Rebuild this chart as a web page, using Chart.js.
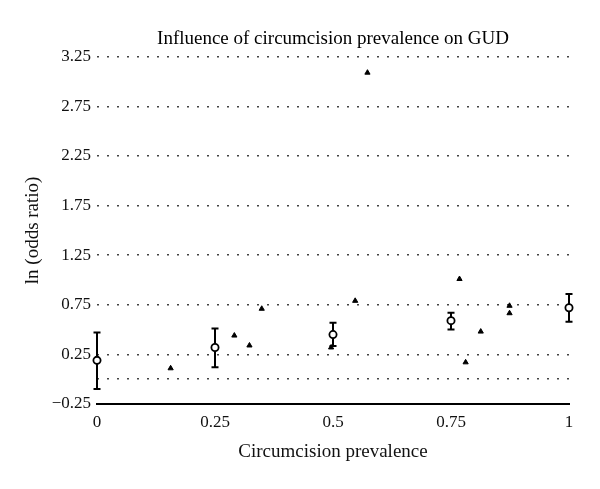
<!DOCTYPE html>
<html>
<head>
<meta charset="utf-8">
<script src="https://cdn.jsdelivr.net/npm/chart.js@4"></script>
<style>
    html, body { margin: 0; padding: 0; background: #fff; }
    #wrap { width: 600px; height: 489px; }
</style>
</head>
<body>
<div id="wrap"><canvas id="gudChart" width="600" height="489"></canvas></div>
<script>
// Pooled estimates (circles with error bars)
const pooledX = [0, 0.25, 0.5, 0.75, 1];
const pooledY = [0.19, 0.32, 0.45, 0.59, 0.72];
const pooledLow = [-0.10, 0.12, 0.335, 0.50, 0.58];
const pooledHigh = [0.47, 0.51, 0.57, 0.67, 0.86];

// Individual studies (triangles)
const studyX = [0.156, 0.291, 0.323, 0.349, 0.496, 0.547, 0.573, 0.768, 0.781, 0.813, 0.874, 0.874];
const studyY = [0.11, 0.44, 0.34, 0.71, 0.32, 0.79, 3.09, 1.01, 0.17, 0.48, 0.74, 0.665];

// Axis ticks
const xTicks = [0, 0.25, 0.5, 0.75, 1];
const yTicks = [-0.25, 0, 0.25, 0.75, 1.25, 1.75, 2.25, 2.75, 3.25];
const yLabels = ['\u22120.25', '', '0.25', '0.75', '1.25', '1.75', '2.25', '2.75', '3.25'];

const serif = "'Liberation Serif', 'DejaVu Serif', serif";

// white background
const bgPlugin = {
    id: 'white_bg',
    beforeDraw: (chart) => {
        const ctx = chart.ctx;
        ctx.save();
        ctx.fillStyle = 'white';
        ctx.fillRect(0, 0, chart.width, chart.height);
        ctx.restore();
    }
};

// vertical error bars for the pooled estimates
const errorBarPlugin = {
    id: 'error_bars',
    beforeDatasetsDraw: (chart) => {
        const ctx = chart.ctx;
        const xs = chart.scales.x;
        const ys = chart.scales.y;
        ctx.save();
        ctx.strokeStyle = '#000';
        ctx.lineWidth = 2;
        for (let i = 0; i < pooledX.length; i++) {
            const px = xs.getPixelForValue(pooledX[i]);
            const top = ys.getPixelForValue(pooledHigh[i]);
            const bot = ys.getPixelForValue(pooledLow[i]);
            ctx.beginPath();
            ctx.moveTo(px, top);
            ctx.lineTo(px, bot);
            ctx.moveTo(px - 3.5, top);
            ctx.lineTo(px + 3.5, top);
            ctx.moveTo(px - 3.5, bot);
            ctx.lineTo(px + 3.5, bot);
            ctx.stroke();
        }
        ctx.restore();
    }
};

const pooledData = pooledX.map((x, i) => ({ x: x, y: pooledY[i] }));
const studyData = studyX.map((x, i) => ({ x: x, y: studyY[i] }));

new Chart(document.getElementById('gudChart'), {
    type: 'scatter',
    data: {
        datasets: [{
            label: 'Studies',
            data: studyData,
            pointStyle: 'triangle',
            pointRadius: 3,
            backgroundColor: '#000',
            borderColor: '#000',
            borderWidth: 1,
            clip: false
        }, {
            label: 'Pooled',
            data: pooledData,
            pointStyle: 'circle',
            pointRadius: 3.6,
            backgroundColor: '#fff',
            borderColor: '#000',
            borderWidth: 1.8,
            clip: false
        }]
    },
    options: {
        responsive: false,
        animation: false,
        layout: { padding: { left: 0, top: 0, right: 31, bottom: 0 } },
        plugins: {
            legend: { display: false },
            tooltip: { enabled: false },
            title: {
                display: true,
                fullSize: false,
                text: 'Influence of circumcision prevalence on GUD',
                color: '#000',
                font: { family: serif, size: 19, weight: 'normal' },
                padding: { top: 28, bottom: 6 }
            }
        },
        scales: {
            x: {
                type: 'linear',
                min: 0,
                max: 1,
                afterFit: (scale) => { scale.height = 85; },
                afterBuildTicks: (scale) => {
                    scale.ticks = xTicks.map(v => ({ value: v }));
                },
                ticks: {
                    color: '#111',
                    padding: 8,
                    maxRotation: 0,
                    font: { family: serif, size: 17 },
                    callback: (v) => String(v)
                },
                grid: { display: false, drawTicks: false },
                border: { display: true, color: '#000', width: 2 },
                title: {
                    display: true,
                    text: 'Circumcision prevalence',
                    color: '#111',
                    font: { family: serif, size: 19 },
                    padding: { top: 0, bottom: 26 }
                }
            },
            y: {
                type: 'linear',
                min: -0.25,
                max: 3.25,
                afterFit: (scale) => { scale.width = 97; },
                afterBuildTicks: (scale) => {
                    scale.ticks = yTicks.map(v => ({ value: v }));
                },
                ticks: {
                    color: '#111',
                    padding: 6,
                    font: { family: serif, size: 17 },
                    callback: (v) => yLabels[yTicks.indexOf(v)]
                },
                grid: {
                    drawTicks: false,
                    lineWidth: 1.6,
                    color: (ctx) => (ctx.tick && ctx.tick.value === -0.25) ? 'rgba(0,0,0,0)' : '#444'
                },
                border: { display: false, dash: [2, 8] },
                title: {
                    display: true,
                    text: 'ln (odds ratio)',
                    color: '#111',
                    font: { family: serif, size: 19 },
                    padding: { top: 22, bottom: 0 }
                }
            }
        }
    },
    plugins: [bgPlugin, errorBarPlugin]
});
</script>
</body>
</html>
